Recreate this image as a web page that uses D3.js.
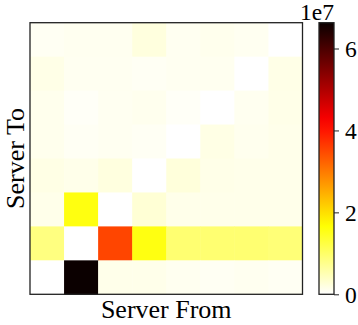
<!DOCTYPE html>
<html>
<head>
<meta charset="utf-8">
<script src="https://cdn.jsdelivr.net/npm/d3@7"></script>
<style>
  body { margin: 0; background: #fff; }
</style>
</head>
<body>
<div id="chart"></div>
<script>
// traffic matrix, units of 1e7, rows top -> bottom (Server To), cols left -> right (Server From)
var servers = [0, 1, 2, 3, 4, 5, 6, 7];
var row0 = [0.08, 0.10, 0.10, 0.22, 0.09, 0.12, 0.09, 0.00];
var row1 = [0.16, 0.09, 0.09, 0.07, 0.09, 0.10, 0.00, 0.16];
var row2 = [0.12, 0.05, 0.09, 0.11, 0.05, 0.00, 0.10, 0.15];
var row3 = [0.12, 0.07, 0.09, 0.07, 0.00, 0.17, 0.11, 0.14];
var row4 = [0.17, 0.14, 0.21, 0.00, 0.24, 0.15, 0.14, 0.14];
var row5 = [0.14, 1.58, 0.00, 0.28, 0.14, 0.14, 0.14, 0.14];
var row6 = [0.84, 0.00, 3.53, 1.57, 0.94, 0.94, 0.94, 0.90];
var row7 = [0.00, 6.63, 0.14, 0.14, 0.10, 0.08, 0.10, 0.08];
var rows = [row0, row1, row2, row3, row4, row5, row6, row7];
var cbTicks = [0, 2, 4, 6];

var width = 358, height = 325;
var plot = {x0: 30, x1: 302.5, y0: 22.7, y1: 294.3};
var cb = {x0: 319, x1: 334};
var serif = "Liberation Serif";

var svg = d3.select("#chart").append("svg")
    .attr("width", width)
    .attr("height", height);

var cells = [];
rows.forEach(function(r, i) {
    r.forEach(function(v, j) { cells.push({row: i, col: j, value: v}); });
});

var vmax = d3.max(cells, function(d) { return d.value; });

// matplotlib "hot_r"
var color = d3.scaleLinear()
    .domain([0, 0.254 * vmax, 0.635 * vmax, vmax])
    .range(["#ffffff", "#ffff00", "#ff0000", "#0b0000"])
    .interpolate(d3.interpolateRgb);

var x = d3.scaleBand().domain(servers).range([plot.x0, plot.x1]);
var y = d3.scaleBand().domain(servers).range([plot.y0, plot.y1]);

svg.append("g").selectAll("rect")
    .data(cells).enter()
    .append("rect")
    .attr("x", function(d) { return x(d.col); })
    .attr("y", function(d) { return y(d.row); })
    .attr("width", x.bandwidth() + 0.5)
    .attr("height", y.bandwidth() + 0.5)
    .attr("fill", function(d) { return color(d.value); });

svg.append("rect")
    .attr("x", plot.x0).attr("y", plot.y0)
    .attr("width", plot.x1 - plot.x0).attr("height", plot.y1 - plot.y0)
    .attr("fill", "none").attr("stroke", "#222").attr("stroke-width", 1.3);

// colorbar
var defs = svg.append("defs");
var grad = defs.append("linearGradient")
    .attr("id", "cbgrad")
    .attr("x1", 0).attr("y1", 1).attr("x2", 0).attr("y2", 0);
d3.range(0, 1.0001, 0.05).forEach(function(t) {
    grad.append("stop")
        .attr("offset", t)
        .attr("stop-color", color(t * vmax));
});

svg.append("rect")
    .attr("x", cb.x0).attr("y", plot.y0)
    .attr("width", cb.x1 - cb.x0).attr("height", plot.y1 - plot.y0)
    .attr("fill", "url(#cbgrad)")
    .attr("stroke", "#222").attr("stroke-width", 1.3);

var cbScale = d3.scaleLinear().domain([0, vmax]).range([plot.y1, plot.y0]);
var cbAxis = svg.append("g")
    .attr("transform", "translate(" + cb.x1 + ",0)")
    .call(d3.axisRight(cbScale).tickValues(cbTicks).tickSize(5).tickPadding(6).tickFormat(d3.format("d")));
cbAxis.attr("font-family", serif).attr("font-size", 23.5);
cbAxis.select(".domain").remove();
cbAxis.selectAll("line").attr("stroke", "#222").attr("stroke-width", 1);
cbAxis.selectAll("text")
    .attr("fill", "#000")
    .attr("dy", "0.34em");

svg.append("text")
    .attr("x", 334).attr("y", 19.5)
    .attr("text-anchor", "end")
    .attr("font-size", 23.5)
    .attr("font-family", serif)
    .text("1e7");

// axis labels
svg.append("text")
    .attr("x", (plot.x0 + plot.x1) / 2).attr("y", 318)
    .attr("text-anchor", "middle")
    .attr("font-size", 26)
    .attr("font-family", serif)
    .text("Server From");

svg.append("text")
    .attr("transform", "translate(24," + ((plot.y0 + plot.y1) / 2) + ")rotate(-90)")
    .attr("text-anchor", "middle")
    .attr("font-size", 26)
    .attr("font-family", serif)
    .text("Server To");
</script>
</body>
</html>
